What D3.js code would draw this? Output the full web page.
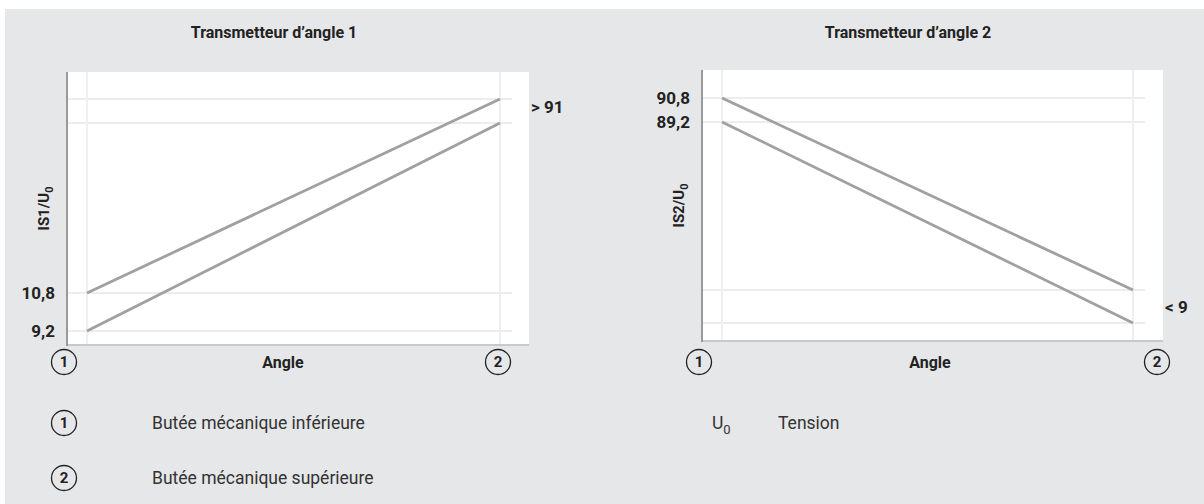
<!DOCTYPE html>
<html>
<head>
<meta charset="utf-8">
<script src="https://cdn.jsdelivr.net/npm/d3@7"></script>
<style>
  body { margin: 0; background: #fff; }
  text { font-family: Roboto, "Liberation Sans", sans-serif; }
</style>
</head>
<body>
<div id="vis"></div>
<script>
let width = 1204
let height = 504

// data
let stops = ["1", "2"]
let angle = [0, 1]
let upper1 = [10.8, 90.8]
let lower1 = [9.2, 89.2]
let upper2 = [90.8, 10.8]
let lower2 = [89.2, 9.2]
let ticks1 = [10.8, 9.2]
let ticks2 = [90.8, 89.2]
let tickLabels1 = ["10,8", "9,2"]
let tickLabels2 = ["90,8", "89,2"]
let limitLabels = ["> 91", "< 9"]
let limitValues = [90.3, 10.0]
let titles = ["Transmetteur d\u2019angle 1", "Transmetteur d\u2019angle 2"]
let yTitles = ["IS1/U", "IS2/U"]
let legendStops = ["Butée mécanique inférieure", "Butée mécanique supérieure"]
let legendSymbol = "Tension"

let svg = d3.select("#vis")
  .append("svg")
  .attr("width", width)
  .attr("height", height)

svg.append("rect")
  .attr("x", 5).attr("y", 9)
  .attr("width", width - 5).attr("height", height - 9)
  .style("fill", "#e6e7e9")

// panel layout
let panels = [
  { left: 67, right: 529, top: 72, bottom: 345, x0: 87, x1: 500,
    yr: [331, 293, 123, 99], upper: upper1, lower: lower1,
    ticks: ticks1, tickLabels: tickLabels1, limit: 0,
    stopX: [64, 498], titleX: 274, angleX: 283, yTitleX: 44 },
  { left: 702, right: 1163, top: 70, bottom: 341, x0: 722, x1: 1133,
    yr: [323, 290, 122, 98], upper: upper2, lower: lower2,
    ticks: ticks2, tickLabels: tickLabels2, limit: 1,
    stopX: [699, 1157], titleX: 908, angleX: 930, yTitleX: 679 }
]

function circled(g, x, y, label) {
  g.append("circle")
    .attr("cx", x).attr("cy", y).attr("r", 12.5)
    .style("fill", "none")
    .style("stroke", "#222")
    .style("stroke-width", 1.3)
  g.append("text")
    .attr("x", x).attr("y", y)
    .attr("dy", "0.36em")
    .attr("text-anchor", "middle")
    .style("font-size", "15px")
    .style("font-weight", "bold")
    .style("fill", "#222")
    .text(label)
}

panels.forEach(function(p, i) {
  let g = svg.append("g")

  let x = d3.scaleLinear().domain([0, 1]).range([p.x0, p.x1])
  let y = d3.scaleLinear().domain([9.2, 10.8, 89.2, 90.8]).range(p.yr)

  g.append("rect")
    .attr("x", p.left).attr("y", p.top)
    .attr("width", p.right - p.left).attr("height", p.bottom - p.top)
    .style("fill", "#fff")

  // faint grid
  g.selectAll(".hgrid")
    .data([9.2, 10.8, 89.2, 90.8])
    .enter()
    .append("line")
    .attr("x1", p.left).attr("x2", x(1) + 12)
    .attr("y1", d => y(d)).attr("y2", d => y(d))
    .style("stroke", "#ededed")
    .style("stroke-width", 2)

  g.selectAll(".vgrid")
    .data(angle)
    .enter()
    .append("line")
    .attr("x1", d => x(d)).attr("x2", d => x(d))
    .attr("y1", p.top).attr("y2", p.bottom)
    .style("stroke", "#efefef")
    .style("stroke-width", 2)

  // axes
  g.append("line")
    .attr("x1", p.left).attr("x2", p.right)
    .attr("y1", p.bottom).attr("y2", p.bottom)
    .style("stroke", "#c8c9cb")
    .style("stroke-width", 2)
  g.append("line")
    .attr("x1", p.left).attr("x2", p.left)
    .attr("y1", p.top).attr("y2", p.bottom + 1)
    .style("stroke", "#9a9a9a")
    .style("stroke-width", 2)

  // lines
  let line = d3.line()
    .x((d, j) => x(angle[j]))
    .y(d => y(d))

  g.selectAll(".series")
    .data([p.upper, p.lower])
    .enter()
    .append("path")
    .attr("d", line)
    .style("fill", "none")
    .style("stroke", "#a0a0a0")
    .style("stroke-width", 2.8)

  // tick labels
  g.selectAll(".tick")
    .data(p.ticks)
    .enter()
    .append("text")
    .attr("x", p.left - 12)
    .attr("y", d => y(d))
    .attr("dy", "0.36em")
    .attr("text-anchor", "end")
    .style("font-size", "17px")
    .style("font-weight", "bold")
    .style("fill", "#222")
    .text((d, j) => p.tickLabels[j])

  g.append("text")
    .attr("x", p.right + 2)
    .attr("y", y(limitValues[p.limit]))
    .attr("dy", "0.36em")
    .style("font-size", "17px")
    .style("font-weight", "bold")
    .style("fill", "#222")
    .text(limitLabels[p.limit])

  // title
  g.append("text")
    .attr("x", p.titleX).attr("y", 38)
    .attr("text-anchor", "middle")
    .style("font-size", "16px")
    .style("font-weight", "bold")
    .style("fill", "#222")
    .text(titles[i])

  // y title
  let yt = g.append("text")
    .attr("transform", "translate(" + p.yTitleX + "," + ((p.top + p.bottom) / 2) + ") rotate(-90)")
    .attr("dy", "0.36em")
    .attr("text-anchor", "middle")
    .style("font-size", "15px")
    .style("font-weight", "bold")
    .style("fill", "#222")
  yt.append("tspan").text(yTitles[i])
  yt.append("tspan").attr("dy", "0.35em").style("font-size", "11px").text("0")

  // x axis title
  g.append("text")
    .attr("x", p.angleX).attr("y", 362)
    .attr("dy", "0.36em")
    .attr("text-anchor", "middle")
    .style("font-size", "16px")
    .style("font-weight", "bold")
    .style("fill", "#222")
    .text("Angle")

  stops.forEach(function(s, j) {
    circled(g, p.stopX[j], 362, s)
  })
})

// legend
let legend = svg.append("g")
legendStops.forEach(function(s, j) {
  let ly = 423 + j * 55
  circled(legend, 64, ly, stops[j])
  legend.append("text")
    .attr("x", 152).attr("y", ly)
    .attr("dy", "0.36em")
    .style("font-size", "17.5px")
    .style("fill", "#333")
    .text(s)
})

let sym = legend.append("text")
  .attr("x", 712).attr("y", 423)
  .attr("dy", "0.36em")
  .style("font-size", "17.5px")
  .style("fill", "#333")
sym.append("tspan").text("U")
sym.append("tspan").attr("dy", "0.35em").style("font-size", "13px").text("0")

legend.append("text")
  .attr("x", 778).attr("y", 423)
  .attr("dy", "0.36em")
  .style("font-size", "17.5px")
  .style("fill", "#333")
  .text(legendSymbol)
</script>
</body>
</html>
